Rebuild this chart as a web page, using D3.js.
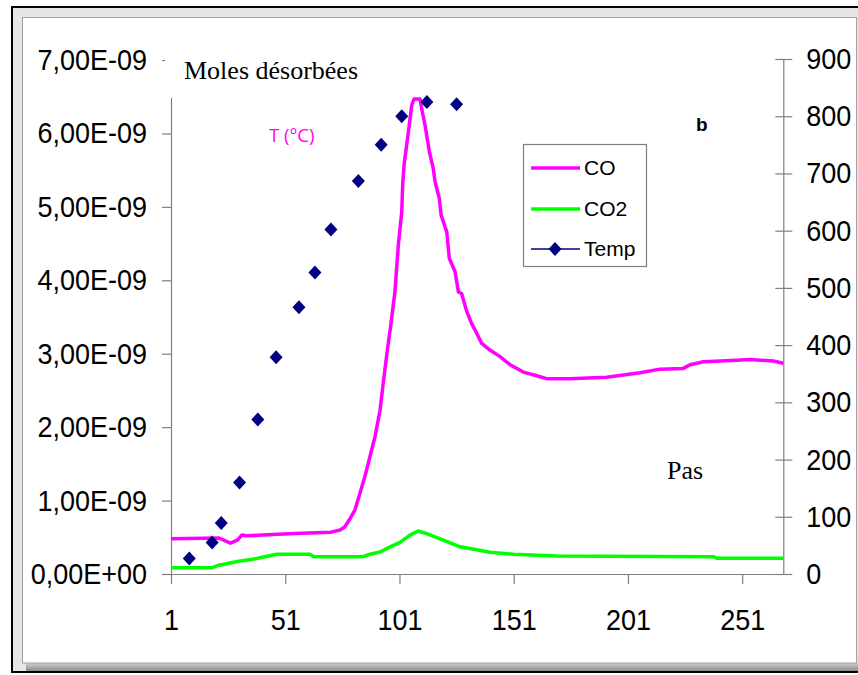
<!DOCTYPE html>
<html>
<head>
<meta charset="utf-8">
<script src="https://cdnjs.cloudflare.com/ajax/libs/d3/7.8.5/d3.min.js"></script>
<style>
  body { margin: 0; background: #fff; }
  svg { display: block; }
</style>
</head>
<body>
<svg width="858" height="675"></svg>
<script>

// DATA

// x axis = "Pas" (step number)
var xTicks = [1, 51, 101, 151, 201, 251];

// left axis : moles desorbed, in units of 1E-09
var leftTicks = [0, 1, 2, 3, 4, 5, 6, 7];
var leftTickLabels = ["0,00E+00", "1,00E-09", "2,00E-09", "3,00E-09", "4,00E-09",
                      "5,00E-09", "6,00E-09", "7,00E-09"];

// right axis : temperature (°C)
var rightTicks = [0, 100, 200, 300, 400, 500, 600, 700, 800, 900];

// CO curve (step, moles x 1E-09)
var coStep = [1, 22, 27, 30, 32, 34, 41, 55, 71, 75, 77, 79, 81.5, 83.7, 85.9, 88.1, 90.3, 92.5,
              93.9, 95.7, 97.2, 99, 100.5, 102, 102.4, 103, 104.9, 106.4, 107.4, 110, 110.7, 112.2,
              114.1, 115.8, 116.6, 118.4, 119.2, 121.7, 122.8, 125.3, 126.8, 128.2, 130.4, 132.6,
              134.8, 137, 140.6, 145, 149.4, 155.2, 161.1, 165.4, 175.6, 191.7, 199, 206.3, 215,
              225.2, 228.2, 234, 241.3, 248.6, 254.5, 264.6, 269];
var coVal  = [0.48, 0.49, 0.42, 0.46, 0.53, 0.52, 0.53, 0.55, 0.57, 0.60, 0.64, 0.735, 0.87, 1.10,
              1.33, 1.60, 1.87, 2.23, 2.60, 3.05, 3.39, 3.84, 4.48, 4.93, 5.30, 5.57, 6.02, 6.39,
              6.47, 6.47, 6.34, 6.11, 5.75, 5.52, 5.34, 5.12, 4.89, 4.66, 4.30, 4.12, 3.84, 3.82,
              3.58, 3.41, 3.28, 3.14, 3.05, 2.96, 2.85, 2.75, 2.70, 2.66, 2.66, 2.68, 2.71, 2.74,
              2.79, 2.80, 2.85, 2.89, 2.90, 2.91, 2.92, 2.90, 2.87];

// CO2 curve (step, moles x 1E-09)
var co2Step = [1, 19, 22, 30, 38.5, 47.3, 61.8, 63.3, 85.2, 88.1, 92.5, 96.9, 101.2, 105.6, 109.2,
               112.9, 120.2, 127.5, 134.8, 140.6, 150.8, 169.8, 238.4, 239.9, 269];
var co2Val  = [0.086, 0.086, 0.12, 0.17, 0.21, 0.27, 0.27, 0.236, 0.236, 0.27, 0.30, 0.37, 0.43,
               0.53, 0.585, 0.55, 0.46, 0.37, 0.33, 0.295, 0.27, 0.245, 0.236, 0.214, 0.214];

// Temperature points (step, °C)
var tempStep = [9, 19, 23, 31, 39, 47, 57, 64, 71, 83, 93, 102, 113, 126];
var tempVal  = [27, 55, 89, 160, 270, 379, 466, 527, 602, 687, 750, 800, 825, 821];

var legendNames = ["CO", "CO2", "Temp"];
var legendColors = ["#ff00ff", "#00ff00", "#000080"];


// PAINTING THE GRAPH

var svg = d3.select("svg");
var axisFont = "'Liberation Sans', Arial, sans-serif";
var serifFont = "'Liberation Serif', 'Times New Roman', serif";

// outer frame: black border, grey bevel, white panel
svg.append("rect")
  .attr("x", 12).attr("y", 7).attr("width", 860).attr("height", 665)
  .attr("fill", "#e6e6e6").attr("stroke", "#000").attr("stroke-width", 2);

var defs = svg.append("defs");
var shade = defs.append("linearGradient").attr("id", "shade")
  .attr("x1", 0).attr("y1", 0).attr("x2", 0).attr("y2", 1);
shade.append("stop").attr("offset", "0%").attr("stop-color", "#d0d0d0");
shade.append("stop").attr("offset", "100%").attr("stop-color", "#8c8c8c");
svg.append("rect")
  .attr("x", 26).attr("y", 663).attr("width", 840).attr("height", 8)
  .attr("fill", "url(#shade)");

svg.append("rect")
  .attr("x", 22.5).attr("y", 17.5).attr("width", 834).attr("height", 645.5)
  .attr("fill", "#fff").attr("stroke", "#a0a0a0").attr("stroke-width", 1);

// scales
var x = d3.scaleLinear().domain([1, 269]).range([171, 783.3]);
var y = d3.scaleLinear().domain([0, 7]).range([574, 60]);
var yT = d3.scaleLinear().domain([0, 900]).range([574, 59]);

// axes
function styleAxis(sel) {
  sel.selectAll("path, line").attr("stroke", "#808080").attr("stroke-width", 1.2);
  sel.selectAll("text")
    .attr("font-family", axisFont)
    .attr("font-size", 27)
    .attr("fill", "#000")
    .attr("transform", "scale(1,1.1)");
}

var gLeft = svg.append("g").attr("transform", "translate(171,0)")
  .call(d3.axisLeft(y).tickValues(leftTicks).tickSize(9).tickSizeOuter(0).tickPadding(15)
    .tickFormat(function(d, i) { return leftTickLabels[i]; }));
styleAxis(gLeft);

var gRight = svg.append("g").attr("transform", "translate(783.3,0)")
  .call(d3.axisRight(yT).tickValues(rightTicks).tickSize(9).tickSizeOuter(0).tickPadding(14));
gRight.selectAll(".tick line").attr("x1", -8);
styleAxis(gRight);

var gBottom = svg.append("g").attr("transform", "translate(0,574)")
  .call(d3.axisBottom(x).tickValues(xTicks).tickSize(10).tickSizeOuter(0));
styleAxis(gBottom);
gBottom.selectAll("text").attr("y", 32);

// title box hides the top of the left axis
svg.append("rect")
  .attr("x", 165).attr("y", 40).attr("width", 205).attr("height", 58)
  .attr("fill", "#fff");
svg.append("text")
  .attr("x", 184).attr("y", 79)
  .attr("font-family", serifFont).attr("font-size", 26)
  .text("Moles désorbées");

// lines
var line = d3.line()
  .x(function(d) { return x(d[0]); })
  .y(function(d) { return y(d[1]); });

svg.append("path")
  .datum(d3.zip(co2Step, co2Val))
  .attr("fill", "none")
  .attr("stroke", legendColors[1])
  .attr("stroke-width", 3.5)
  .attr("stroke-linejoin", "round")
  .attr("d", line);

svg.append("path")
  .datum(d3.zip(coStep, coVal))
  .attr("fill", "none")
  .attr("stroke", legendColors[0])
  .attr("stroke-width", 3.5)
  .attr("stroke-linejoin", "round")
  .attr("d", line);

// temperature markers (diamonds)
var diamond = "M0,-7L6.5,0L0,7L-6.5,0Z";
svg.selectAll(".temp")
  .data(d3.zip(tempStep, tempVal))
  .enter().append("path")
  .attr("class", "temp")
  .attr("d", diamond)
  .attr("fill", legendColors[2])
  .attr("transform", function(d) { return "translate(" + x(d[0]) + "," + yT(d[1]) + ")"; });

// annotations
svg.append("text")
  .attr("x", 269).attr("y", 142)
  .attr("font-family", "'Open Sans', sans-serif").attr("font-size", 18.5)
  .attr("fill", "#ff00ff")
  .text("T (°C)");

svg.append("text")
  .attr("x", 696).attr("y", 131)
  .attr("font-family", axisFont).attr("font-size", 19).attr("font-weight", "bold")
  .text("b");

svg.append("text")
  .attr("x", 667).attr("y", 479)
  .attr("font-family", serifFont).attr("font-size", 26)
  .text("Pas");

// legend
var legend = svg.append("g");
legend.append("rect")
  .attr("x", 523.5).attr("y", 144.5).attr("width", 123).attr("height", 122)
  .attr("fill", "#fff").attr("stroke", "#808080").attr("stroke-width", 1.2);

var legendY = [168, 209, 249];
legendNames.forEach(function(name, i) {
  legend.append("line")
    .attr("x1", 531).attr("x2", 580)
    .attr("y1", legendY[i]).attr("y2", legendY[i])
    .attr("stroke", legendColors[i])
    .attr("stroke-width", i < 2 ? 3.5 : 1.5);
  if (i == 2) {
    legend.append("path")
      .attr("d", diamond)
      .attr("fill", legendColors[i])
      .attr("transform", "translate(555," + legendY[i] + ")");
  }
  legend.append("text")
    .attr("x", 584).attr("y", legendY[i] + 7)
    .attr("font-family", axisFont).attr("font-size", 21)
    .text(name);
});

</script>
</body>
</html>
